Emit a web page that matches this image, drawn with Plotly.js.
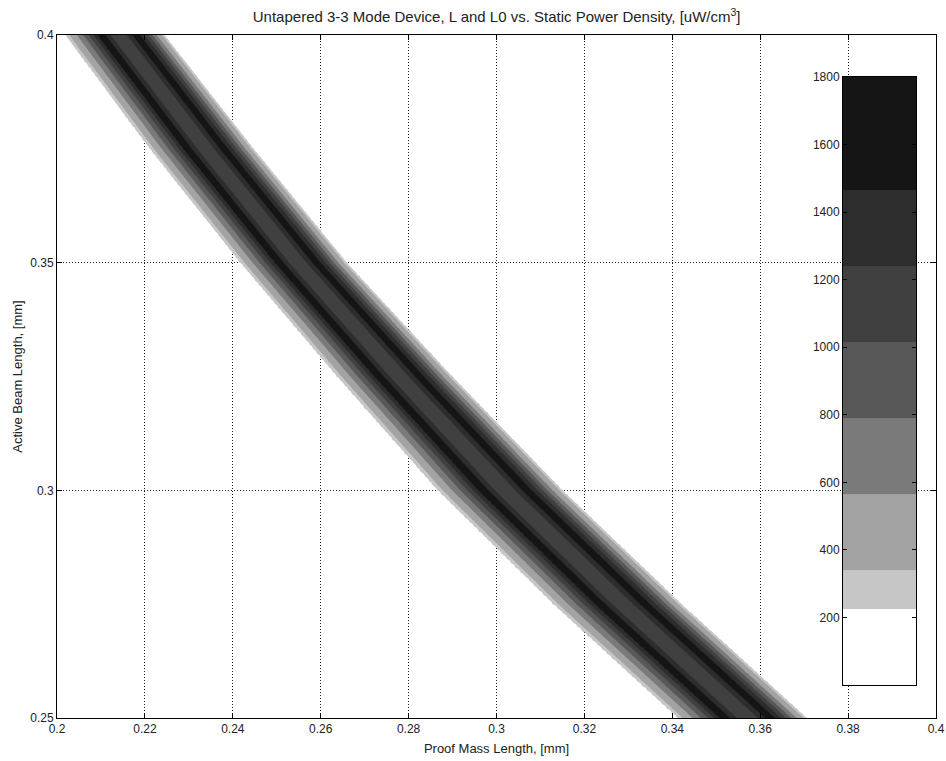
<!DOCTYPE html>
<html><head><meta charset="utf-8">
<script src="https://cdn.plot.ly/plotly-3.0.1.min.js"></script>
<style>html,body{margin:0;padding:0;background:#fff}#chart{width:946px;height:761px}</style>
</head><body><div id="chart"></div>
<script>
// Band outline: proof-mass length (mm) of the band's outer edges at each beam length
const beamLength    = [0.25,   0.275,  0.30,   0.325,  0.35,   0.375,  0.40];
const bandLeftEdge  = [0.3411, 0.3128, 0.2865, 0.2636, 0.2416, 0.2210, 0.2018];
const bandRightEdge = [0.3707, 0.3422, 0.3151, 0.2900, 0.2660, 0.2448, 0.2245];
// Power density across the band (position as fraction of band width -> uW/cm^3)
const profilePos = [-0.03, 0.0, 0.06, 0.13, 0.20, 0.27, 0.33, 0.38, 0.44, 0.52, 0.60, 0.67, 0.72, 0.78, 0.85, 0.91, 0.96, 1.0, 1.03];
const profileVal = [0,     230, 380,  600,  850,  1150, 1500, 1600, 1300, 1050, 1150, 1450, 1600, 1350, 950,  600,  380,  240, 0];

const xTickVals = [0.2, 0.22, 0.24, 0.26, 0.28, 0.3, 0.32, 0.34, 0.36, 0.38, 0.4];
const xTickText = ["0.2","0.22","0.24","0.26","0.28","0.3","0.32","0.34","0.36","0.38","0.4"];
const yTickVals = [0.25, 0.3, 0.35, 0.4];
const yTickText = ["0.25","0.3","0.35","0.4"];

const levelEdges  = [0, 225, 340, 565, 790, 1015, 1240, 1465, 1800];
const levelColors = ['#ffffff','#c6c6c6','#a3a3a3','#7a7a7a','#585858','#404040','#2d2d2d','#151515'];
const cbTickVals  = [200, 400, 600, 800, 1000, 1200, 1400, 1600, 1800];

function lerp(xs, ys, x) {
  if (x <= xs[0]) return ys[0];
  if (x >= xs[xs.length-1]) return ys[ys.length-1];
  for (let i = 1; i < xs.length; i++) {
    if (x <= xs[i]) { const t = (x - xs[i-1])/(xs[i]-xs[i-1]); return ys[i-1] + t*(ys[i]-ys[i-1]); }
  }
  return ys[ys.length-1];
}

// Build the grid the contour needs from the read values
const gx = [], gy = [], gz = [];
for (let i = 0; i <= 500; i++) gx.push(0.2 + i*0.0004);
for (let j = 0; j <= 150; j++) gy.push(0.25 + j*0.001);
for (const y of gy) {
  const L = lerp(beamLength, bandLeftEdge, y), R = lerp(beamLength, bandRightEdge, y);
  gz.push(gx.map(x => lerp(profilePos, profileVal, (x - L)/(R - L))));
}

const nB = levelEdges.length - 3; // uniform levels from 340 to 1465
const csB = [[0,'rgba(255,255,255,0)']];
for (let k = 1; k <= nB; k++) csB.push([k/nB, levelColors[k+1]]);

const cbScale = levelColors.map((c,i)=>[i/(levelColors.length-1), c]);

const tickFont = {family:'"Liberation Sans Narrow", "Liberation Sans", Arial, sans-serif', size:12, color:'#222'};
const labFont  = {family:'"Liberation Sans", Arial, sans-serif', size:13, color:'#222'};

const traces = [
  {type:'contour', x:gx, y:gy, z:gz, autocontour:false,
   contours:{start:levelEdges[1], end:levelEdges[1], size:1, coloring:'fill', showlines:false},
   line:{width:0}, colorscale:[[0,'rgba(255,255,255,0)'],[1,levelColors[1]]], showscale:false, hoverinfo:'skip'},
  {type:'contour', x:gx, y:gy, z:gz, autocontour:false,
   contours:{start:levelEdges[2], end:levelEdges[7], size:levelEdges[3]-levelEdges[2], coloring:'fill', showlines:false},
   line:{width:0}, colorscale:csB, showscale:false, hoverinfo:'skip'},
  {type:'heatmap', xaxis:'x2', yaxis:'y2', x:[0,1], y:levelEdges,
   z:levelColors.map((c,i)=>[i]), zmin:0, zmax:levelColors.length-1,
   colorscale:cbScale, showscale:false, hoverinfo:'skip'}
];

const axBase = {showgrid:true, gridcolor:'#222', griddash:'1px,2px', gridwidth:1,
  showline:true, linecolor:'#000', linewidth:1, mirror:'ticks', ticks:'inside', ticklen:5, tickcolor:'#000',
  zeroline:false, tickfont:tickFont};

const layout = {
  width:946, height:761, margin:{l:57, r:10, t:35, b:43},
  paper_bgcolor:'#fff', plot_bgcolor:'rgba(0,0,0,0)', showlegend:false,
  title:{text:'Untapered 3-3 Mode Device, L and L0 vs. Static Power Density, [uW/cm<sup>3</sup>]',
         x:0.525, xanchor:'center', y:0.978, yanchor:'middle', font:{family:labFont.family, size:15, color:'#222'}},
  xaxis:Object.assign({}, axBase, {range:[0.2,0.4], tickmode:'array', tickvals:xTickVals, ticktext:xTickText,
         title:{text:'Proof Mass Length, [mm]', font:labFont, standoff:8}}),
  yaxis:Object.assign({}, axBase, {range:[0.25,0.4], tickmode:'array', tickvals:yTickVals, ticktext:yTickText,
         title:{text:'Active Beam Length, [mm]', font:labFont, standoff:4}}),
  xaxis2:{domain:[0.8942,0.9773], anchor:'y2', range:[0,1], showticklabels:false, showgrid:false, zeroline:false,
          showline:true, mirror:true, linecolor:'#000', linewidth:1, ticks:''},
  yaxis2:{domain:[0.0483,0.9385], anchor:'x2', range:[0,1800], side:'left', tickmode:'array', tickvals:cbTickVals,
          showgrid:false, zeroline:false, showline:true, mirror:'ticks', linecolor:'#000', linewidth:1,
          ticks:'inside', ticklen:4, tickcolor:'#000', tickfont:tickFont}
};

Plotly.newPlot('chart', traces, layout, {displayModeBar:false, staticPlot:true});
</script></body></html>
